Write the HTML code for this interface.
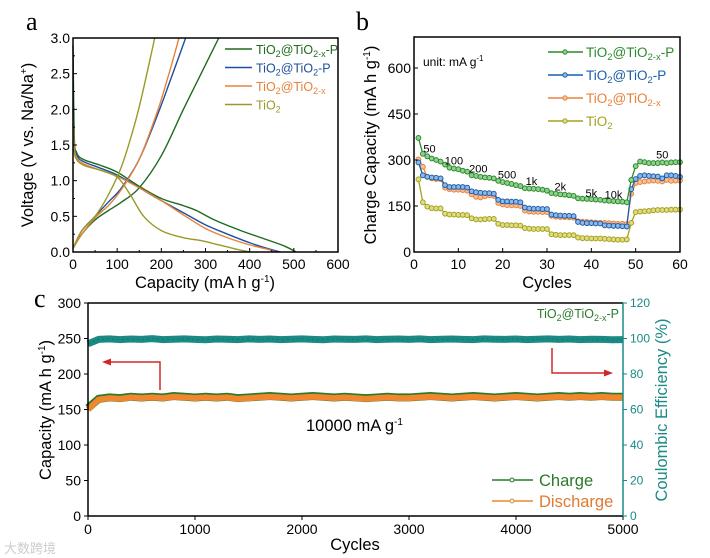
<!DOCTYPE html>
<html><head><meta charset="utf-8"><style>
html,body{margin:0;padding:0;background:#fff;}
svg{display:block;font-family:"Liberation Sans","Noto Sans CJK SC",sans-serif;}
</style></head><body>
<svg id="fig" width="710" height="558" viewBox="0 0 710 558" xmlns="http://www.w3.org/2000/svg">
<g id="pa"></g>
<g id="pb"></g>
<g id="pc"></g>
<text x="4" y="553" font-size="13" fill="#ccc">大数跨境</text>
</svg>
<script>
// ---------- Panel a data ----------
const aColors = ["#1e6b1e","#1c4fa0","#e8823a","#9a9a2a"];
const aNames = ["green","blue","orange","olive"];
const aDisCap = [
 [0,3,8,15,30,60,100,150,200,250,280,320,380,440,480,505],
 [0,3,8,15,30,60,100,150,200,250,300,350,400,440,470],
 [0,3,8,15,30,60,100,150,200,250,300,350,400,440,460],
 [0,3,8,15,30,60,100,130,160,200,250,290,330,370,400]];
const aDisV = [
 [2.9,1.6,1.4,1.33,1.28,1.22,1.12,0.92,0.75,0.65,0.58,0.45,0.3,0.17,0.08,0.0],
 [2.0,1.5,1.37,1.3,1.25,1.18,1.08,0.9,0.72,0.55,0.38,0.25,0.13,0.05,0.0],
 [1.9,1.45,1.33,1.27,1.22,1.15,1.06,0.9,0.72,0.52,0.33,0.2,0.1,0.04,0.0],
 [1.8,1.4,1.3,1.25,1.2,1.15,1.05,0.8,0.5,0.3,0.2,0.16,0.1,0.04,0.0]];
const aChCap = [
 [0,20,50,80,110,150,200,250,290,330],
 [0,20,50,80,110,150,190,220,255],
 [0,20,50,80,110,150,190,215,240],
 [0,20,50,80,110,140,160,185]];
const aChV = [
 [0.05,0.25,0.45,0.58,0.7,0.9,1.35,2.0,2.5,3.0],
 [0.05,0.3,0.5,0.7,0.9,1.3,1.9,2.4,3.0],
 [0.05,0.25,0.48,0.65,0.88,1.3,1.95,2.45,3.0],
 [0.05,0.3,0.5,0.8,1.2,1.8,2.3,3.0]];
const aXTicks = [0,100,200,300,400,500,600];
const aYTicks = [0.0,0.5,1.0,1.5,2.0,2.5,3.0];

// ---------- Panel b data ----------
const bColors = ["#2a8a2a","#1c5ea8","#e8823a","#a5a020"];
const bGreen = [372,320,312,305,300,295,285,275,272,270,265,262,250,248,245,243,242,240,232,228,225,222,218,215,208,207,206,205,203,200,192,190,188,187,185,183,175,174,173,172,171,170,168,167,166,165,164,162,235,280,295,293,290,290,290,292,290,292,293,293];
const bBlue = [292,250,245,243,242,240,218,212,212,212,212,210,198,195,193,192,192,190,170,165,165,164,164,162,145,142,141,141,140,140,122,120,119,118,118,117,98,95,94,94,93,93,87,86,85,85,84,83,205,238,248,250,248,247,246,240,250,250,248,245];
const bOrange = [302,278,245,240,238,238,210,205,203,203,202,200,188,180,178,182,185,183,160,155,153,152,152,150,135,132,131,131,130,130,118,115,114,114,113,112,100,99,98,97,96,95,95,94,93,92,92,91,190,225,228,230,232,233,232,230,235,232,233,233];
const bOlive = [237,162,148,143,142,142,125,122,122,121,121,120,110,106,106,107,108,108,92,88,88,87,87,86,78,76,75,75,75,75,58,56,55,55,55,55,47,45,45,44,44,44,43,42,41,40,40,41,95,130,132,133,134,136,137,137,137,138,138,138];
const bXTicks = [0,10,20,30,40,50,60];
const bYTicks = [0,150,300,450,600];
const bRateLabels = ["50","100","200","500","1k","2k","5k","10k","50"];
const bRateCycle = [3.5,9,14.5,21,26.5,33,40,45,56];
const bRateVal = [325,285,260,240,218,200,180,175,305];

// ---------- Panel c data ----------
const cCycles = [0,100,200,300,400,500,600,700,800,900,1000,1100,1200,1300,1400,1500,1600,1700,1800,1900,2000,2100,2200,2300,2400,2500,2600,2700,2800,2900,3000,3100,3200,3300,3400,3500,3600,3700,3800,3900,4000,4100,4200,4300,4400,4500,4600,4700,4800,4900,5000];
const cCharge = [152,165,167,166,168,167,168,167,169,168,167,168,167,168,166,167,168,169,168,167,168,169,168,167,168,167,166,167,168,167,167,168,169,168,167,168,169,168,167,168,169,168,167,168,169,168,169,168,169,168,168];
const cDischarge = [150,164,166,165,167,166,167,166,168,167,166,167,166,167,165,166,167,168,167,166,167,168,167,166,167,166,165,166,167,166,166,167,168,167,166,167,168,167,166,167,168,167,166,167,168,167,168,167,168,167,167];
const cCE = [97,99.5,99.8,99.4,99.7,99.5,99.9,99.4,99.6,99.8,99.5,99.3,99.7,99.6,99.4,99.8,99.5,99.7,99.4,99.6,99.8,99.5,99.3,99.7,99.6,99.5,99.8,99.4,99.6,99.7,99.5,99.8,99.4,99.6,99.7,99.5,99.4,99.8,99.6,99.5,99.7,99.4,99.6,99.8,99.5,99.7,99.4,99.6,99.5,99.3,99.4];
const cXTicks = [0,1000,2000,3000,4000,5000];
const cYTicks = [0,50,100,150,200,250,300];
const cY2Ticks = [0,20,40,60,80,100,120];

const NS="http://www.w3.org/2000/svg";
function mk(parent,tag,attrs,txt){const e=document.createElementNS(NS,tag);for(const k in attrs)e.setAttribute(k,attrs[k]);if(txt!==undefined)e.textContent=txt;parent.appendChild(e);return e;}
function smoothPath(P){let d='M'+P[0][0]+','+P[0][1];
 for(let i=0;i<P.length-1;i++){const p0=P[i-1]||P[i],p1=P[i],p2=P[i+1],p3=P[i+2]||p2;
  const c1=[p1[0]+(p2[0]-p0[0])/6,p1[1]+(p2[1]-p0[1])/6],c2=[p2[0]-(p3[0]-p1[0])/6,p2[1]-(p3[1]-p1[1])/6];
  d+=' C'+c1[0]+','+c1[1]+' '+c2[0]+','+c2[1]+' '+p2[0]+','+p2[1];}
 return d;}

// ===== Panel A =====
(function(){
const g=document.getElementById('pa');
const X0=73,X1=338,Y0=252,Y1=38;
const ax=v=>X0+(v-0)/(600-0)*(X1-X0);
const ay=v=>Y0-(v-0)/(3-0)*(Y0-Y1);
for(let s=0;s<4;s++){
  const p1=aDisCap[s].map((c,i)=>[ax(c),ay(aDisV[s][i])]);
  const l1=mk(g,'path',{d:smoothPath(p1),fill:'none',stroke:aColors[s],'stroke-width':1.4});
  
  
  const p2=aChCap[s].map((c,i)=>[ax(c),ay(aChV[s][i])]);
  const l2=mk(g,'path',{d:smoothPath(p2),fill:'none',stroke:aColors[s],'stroke-width':1.4});
  
  
}
const fr=mk(g,'rect',{x:X0,y:Y1,width:X1-X0,height:Y0-Y1,fill:'none',stroke:'#000','stroke-width':1.5});


aXTicks.forEach(t=>{const x=ax(t);mk(g,'line',{x1:x,x2:x,y1:Y0,y2:Y0-4,stroke:'#000'});
 if(t<600)mk(g,'line',{x1:ax(t+50),x2:ax(t+50),y1:Y0,y2:Y0-2,stroke:'#000'});
 const tx=mk(g,'text',{x:x,y:Y0+17,'font-size':14,'text-anchor':'middle'},String(t));
 
 });
aYTicks.forEach(t=>{const y=ay(t);mk(g,'line',{x1:X0,x2:X0+4,y1:y,y2:y,stroke:'#000'});
 if(t<3)mk(g,'line',{x1:X0,x2:X0+2,y1:ay(t+0.25),y2:ay(t+0.25),stroke:'#000'});
 const tx=mk(g,'text',{x:X0-3,y:y+5,'font-size':14,'text-anchor':'end'},t.toFixed(1));
 
 });
const leg=[["TiO","2","@TiO","2-x","-P"],["TiO","2","@TiO","2","-P"],["TiO","2","@TiO","2-x",""],["TiO","2","","",""]];
leg.forEach((L,i)=>{const y=49+i*18.5;
 const ln=mk(g,'line',{x1:225,x2:252,y1:y,y2:y,stroke:aColors[i],'stroke-width':1.6});
 
 
 const t=mk(g,'text',{x:256,y:y+5,'font-size':12.5,fill:aColors[i]});
 
 
 L.forEach((s,k)=>{if(!s)return;const ts=mk(t,'tspan',{},s);if(k%2==1){ts.setAttribute('font-size',9);ts.setAttribute('dy',3);}else if(k>0){ts.setAttribute('dy',-3);}});
});
const lab=mk(g,'text',{x:26,y:30,'font-size':26,'font-family':'Liberation Serif, serif'},'a');


const xt=mk(g,'text',{x:205,y:288,'font-size':16.5,'text-anchor':'middle'});
xt.innerHTML='Capacity (mA h g<tspan font-size="10" dy="-6">-1</tspan><tspan dy="6">)</tspan>';


const yt=mk(g,'text',{x:0,y:0,'font-size':16.5,'text-anchor':'middle',transform:'translate(33,145) rotate(-90)'});
yt.innerHTML='Voltage (V vs. Na/Na<tspan font-size="10" dy="-6">+</tspan><tspan dy="6">)</tspan>';


})();

// ===== Panel B =====
(function(){
const g=document.getElementById('pb');
const X0=414,X1=680,Y0=252,Y1=37;
const bx=v=>X0+v/60*(X1-X0);
const by=v=>Y0-v/600*(Y0-68);
const series=[bGreen,bBlue,bOrange,bOlive];
const names=["tio2-tio2x-p","tio2-tio2-p","tio2-tio2x","tio2"];
const fills=["#8fd08f","#8fb8ea","#f6c09a","#e0dc80"];
for(let s=3;s>=0;s--){
  const pts=series[s].map((v,i)=>bx(i+1)+','+by(v)).join(' ');
  const l=mk(g,'polyline',{points:pts,fill:'none',stroke:bColors[s],'stroke-width':1.3});
  
  
  series[s].forEach((v,i)=>{const c=mk(g,'circle',{cx:bx(i+1),cy:by(v),r:2.4,fill:fills[s],stroke:bColors[s],'stroke-width':1});
   
   });
}
const fr=mk(g,'rect',{x:X0,y:Y1,width:X1-X0,height:Y0-Y1,fill:'none',stroke:'#000','stroke-width':1.5});


bXTicks.forEach(t=>{const x=bx(t);mk(g,'line',{x1:x,x2:x,y1:Y0,y2:Y0-4,stroke:'#000'});
 const tx=mk(g,'text',{x:x,y:Y0+17,'font-size':14,'text-anchor':'middle'},String(t));
 
 });
bYTicks.forEach(t=>{const y=by(t);mk(g,'line',{x1:X0,x2:X0+4,y1:y,y2:y,stroke:'#000'});
 const tx=mk(g,'text',{x:X0-3,y:y+5,'font-size':14,'text-anchor':'end'},String(t));
 
 });
bRateLabels.forEach((r,i)=>{const t=mk(g,'text',{x:bx(bRateCycle[i]),y:by(bRateVal[i]),'font-size':11,'text-anchor':'middle'},r);
 
 });
const un=mk(g,'text',{x:423,y:66,'font-size':12});
un.innerHTML='unit: mA g<tspan font-size="8" dy="-5">-1</tspan>';


const leg=[["TiO","2","@TiO","2-x","-P"],["TiO","2","@TiO","2","-P"],["TiO","2","@TiO","2-x",""],["TiO","2","","",""]];
leg.forEach((L,i)=>{const y=52+i*23;
 const ln=mk(g,'line',{x1:548,x2:583,y1:y,y2:y,stroke:bColors[i],'stroke-width':1.6});
 
 
 const c=mk(g,'circle',{cx:565,cy:y,r:2.2,fill:fills[i],stroke:bColors[i]});
 
 
 const t=mk(g,'text',{x:586,y:y+5,'font-size':13.5,fill:bColors[i]});
 
 
 L.forEach((s,k)=>{if(!s)return;const ts=mk(t,'tspan',{},s);if(k%2==1){ts.setAttribute('font-size',9.5);ts.setAttribute('dy',3);}else if(k>0){ts.setAttribute('dy',-3);}});
});
const lab=mk(g,'text',{x:356,y:30,'font-size':26,'font-family':'Liberation Serif, serif'},'b');


const xt=mk(g,'text',{x:547,y:288,'font-size':16.5,'text-anchor':'middle'},'Cycles');


const yt=mk(g,'text',{x:0,y:0,'font-size':16.5,'text-anchor':'middle',transform:'translate(376,145) rotate(-90)'});
yt.innerHTML='Charge Capacity (mA h g<tspan font-size="10" dy="-6">-1</tspan><tspan dy="6">)</tspan>';


})();

// ===== Panel C =====
(function(){
const g=document.getElementById('pc');
const X0=88,X1=623,Y0=516,Y1=303;
const cx=v=>X0+v/5000*(X1-X0);
const cy=v=>Y0-v/300*(Y0-Y1);
const cy2=v=>Y0-v/120*(Y0-Y1);
const teal="#1a8a86";
const ce=mk(g,'polyline',{points:cCE.map((v,i)=>cx(cCycles[i])+','+cy2(v)).join(' '),fill:'none',stroke:teal,'stroke-width':7});


const ce2=mk(g,'polyline',{points:cCE.map((v,i)=>cx(cCycles[i])+','+cy2(v)).join(' '),fill:'none',stroke:'#2c6e54','stroke-width':1,'stroke-dasharray':'2 3'});


const ch=mk(g,'polyline',{points:cCharge.map((v,i)=>cx(cCycles[i])+','+cy(v)).join(' '),fill:'none',stroke:'#2a7a2a','stroke-width':8});


const dc=mk(g,'polyline',{points:cDischarge.map((v,i)=>cx(cCycles[i])+','+cy(v)).join(' '),fill:'none',stroke:'#f0862e','stroke-width':6});


mk(g,'line',{x1:X0,x2:X1,y1:Y1,y2:Y1,stroke:'#000','stroke-width':1.5});
mk(g,'line',{x1:X0,x2:X1,y1:Y0,y2:Y0,stroke:'#000','stroke-width':1.5});
mk(g,'line',{x1:X0,x2:X0,y1:Y1,y2:Y0,stroke:'#000','stroke-width':1.5});
const ra=mk(g,'line',{x1:X1,x2:X1,y1:Y1,y2:Y0,stroke:teal,'stroke-width':1.5});


cXTicks.forEach(t=>{const x=cx(t);mk(g,'line',{x1:x,x2:x,y1:Y0,y2:Y0+4,stroke:'#000'});
 const tx=mk(g,'text',{x:x,y:Y0+18,'font-size':14,'text-anchor':'middle'},String(t));
 
 });
cYTicks.forEach(t=>{const y=cy(t);mk(g,'line',{x1:X0,x2:X0-4,y1:y,y2:y,stroke:'#000'});
 const tx=mk(g,'text',{x:X0-7,y:y+5,'font-size':14,'text-anchor':'end'},String(t));
 
 });
cY2Ticks.forEach(t=>{const y=cy2(t);mk(g,'line',{x1:X1,x2:X1+4,y1:y,y2:y,stroke:teal});
 const tx=mk(g,'text',{x:X1+7,y:y+4,'font-size':12,fill:teal},String(t));
 
 });
const a1=mk(g,'polyline',{points:'160,390 160,362 108,362',fill:'none',stroke:'#d02828','stroke-width':1.5});


mk(g,'polygon',{points:'102,362 111,358.5 111,365.5',fill:'#d02828'});
const a2=mk(g,'polyline',{points:'552,348 552,373 606,373',fill:'none',stroke:'#d02828','stroke-width':1.5});


mk(g,'polygon',{points:'613,373 604,369.5 604,376.5',fill:'#d02828'});
const note=mk(g,'text',{x:306,y:431,'font-size':16.5});
note.innerHTML='10000 mA g<tspan font-size="10" dy="-6">-1</tspan>';


const st=mk(g,'text',{x:619,y:318,'font-size':12.5,fill:'#2a7a2a','text-anchor':'end'});
st.innerHTML='TiO<tspan font-size="9" dy="3">2</tspan><tspan dy="-3">@TiO</tspan><tspan font-size="9" dy="3">2-x</tspan><tspan dy="-3">-P</tspan>';


[["Charge","#2a7a2a","#2a7a2a",480],["Discharge","#f0862e","#e07a30",501]].forEach(L=>{
 const ln=mk(g,'line',{x1:492,x2:533,y1:L[3],y2:L[3],stroke:L[1],'stroke-width':1.6});
 
 
 mk(g,'circle',{cx:512,cy:L[3],r:2,fill:'#cfe',stroke:L[1]});
 const t=mk(g,'text',{x:539,y:L[3]+6,'font-size':16.5,fill:L[2]},L[0]);
 
 
});
const lab=mk(g,'text',{x:34,y:307,'font-size':26,'font-family':'Liberation Serif, serif'},'c');


const xt=mk(g,'text',{x:355,y:550,'font-size':16.5,'text-anchor':'middle'},'Cycles');


const yt=mk(g,'text',{x:0,y:0,'font-size':16.5,'text-anchor':'middle',transform:'translate(51,410) rotate(-90)'});
yt.innerHTML='Capacity (mA h g<tspan font-size="10" dy="-6">-1</tspan><tspan dy="6">)</tspan>';


const y2=mk(g,'text',{x:0,y:0,'font-size':16.5,'text-anchor':'middle',fill:teal,transform:'translate(667,410) rotate(-90)'},'Coulombic Efficiency (%)');


})();
</script>
</body></html>
